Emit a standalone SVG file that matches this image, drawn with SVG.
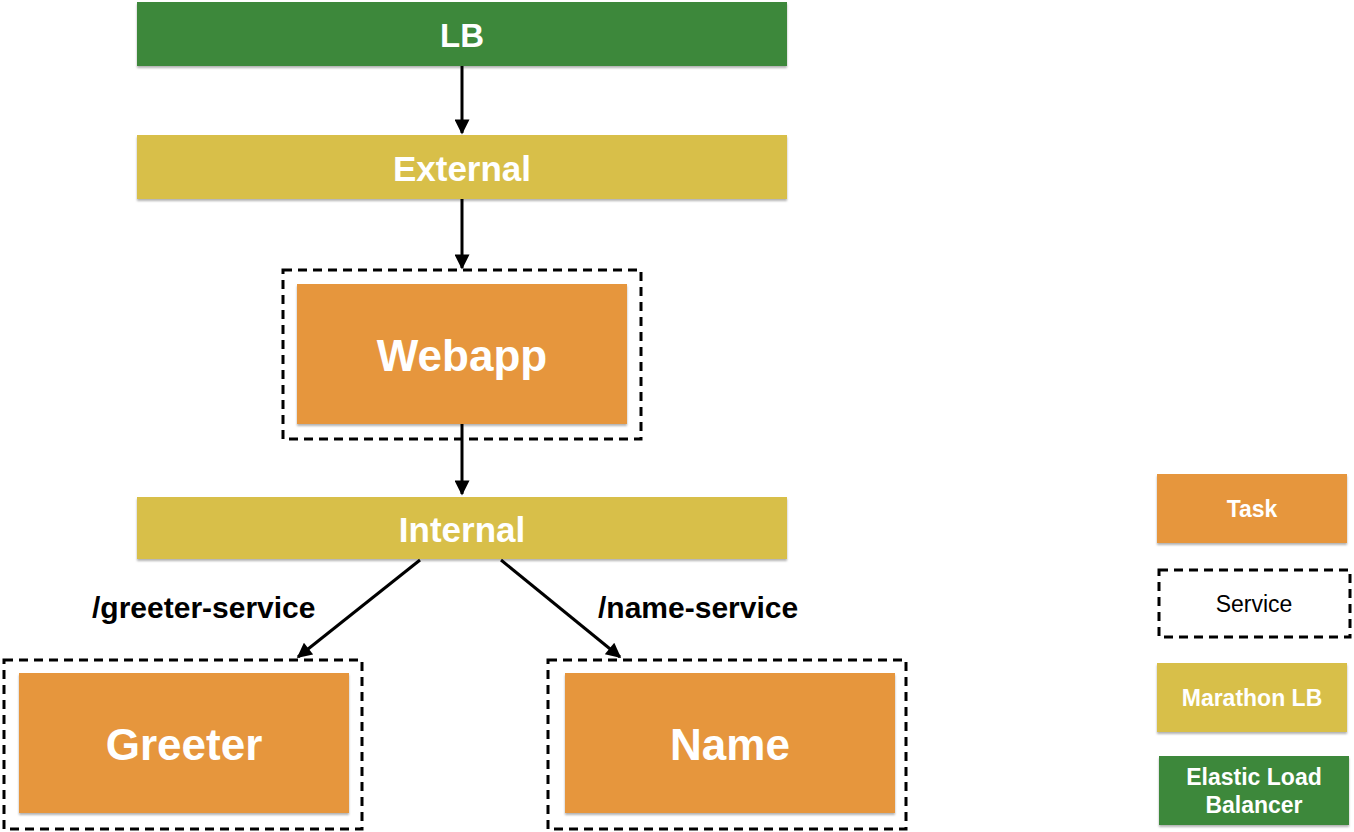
<svg xmlns="http://www.w3.org/2000/svg" width="1354" height="832" viewBox="0 0 1354 832">
<style>
.lbg{fill:#3d883b}
.mlb{fill:#d8bf48}
.task{fill:#e6963c}
.svc{fill:none;stroke:#000;stroke-width:3;stroke-dasharray:9 6}
.t{font-family:"Liberation Sans",Arial,sans-serif;font-weight:bold;fill:#fff;text-anchor:middle;dominant-baseline:central}
.lbl{font-family:"Liberation Sans",Arial,sans-serif;font-weight:bold;fill:#000;font-size:30px}
.reg{font-family:"Liberation Sans",Arial,sans-serif;fill:#000;text-anchor:middle;dominant-baseline:central;font-size:23px}
.conn{stroke:#000;stroke-width:3;fill:none}
</style>
<defs>
<filter id="sh" x="-5%" y="-10%" width="110%" height="130%">
<feDropShadow dx="0" dy="2" stdDeviation="1.2" flood-color="#000" flood-opacity="0.3"/>
</filter>
<marker id="ah" viewBox="0 0 10 10" refX="9" refY="5" markerWidth="5.5" markerHeight="5" orient="auto" markerUnits="strokeWidth">
<path d="M0,0 L10,5 L0,10 z" fill="#000"/>
</marker>
</defs>
<rect width="1354" height="832" fill="#fff"/>
<g id="lb">
<rect class="lbg" x="137" y="2" width="650" height="64" filter="url(#sh)"/>
<text class="t" x="462" y="35" font-size="33">LB</text>
</g>
<g id="external">
<rect class="mlb" x="137" y="135" width="650" height="64" filter="url(#sh)"/>
<text class="t" x="462" y="168" font-size="35">External</text>
</g>
<g id="webapp">
<rect class="svc" x="283" y="270" width="358" height="169"/>
<rect class="task" x="297" y="284" width="330" height="140" filter="url(#sh)"/>
<text class="t" x="462" y="355" font-size="44">Webapp</text>
</g>
<g id="internal">
<rect class="mlb" x="137" y="497" width="650" height="62" filter="url(#sh)"/>
<text class="t" x="462" y="529" font-size="35">Internal</text>
</g>
<g id="greeter">
<rect class="svc" x="4" y="660" width="358" height="169"/>
<rect class="task" x="19" y="673" width="330" height="140" filter="url(#sh)"/>
<text class="t" x="184" y="744" font-size="44">Greeter</text>
</g>
<g id="name">
<rect class="svc" x="548" y="660" width="358" height="169"/>
<rect class="task" x="565" y="673" width="330" height="140" filter="url(#sh)"/>
<text class="t" x="730" y="744" font-size="44">Name</text>
</g>
<g id="connectors">
<line class="conn" x1="462" y1="66" x2="462" y2="133" marker-end="url(#ah)"/>
<line class="conn" x1="462" y1="199" x2="462" y2="268" marker-end="url(#ah)"/>
<line class="conn" x1="462" y1="424" x2="462" y2="494" marker-end="url(#ah)"/>
<line class="conn" x1="420" y1="560" x2="298" y2="657" marker-end="url(#ah)"/>
<line class="conn" x1="501" y1="560" x2="620" y2="657" marker-end="url(#ah)"/>
<text class="lbl" x="92" y="618">/greeter-service</text>
<text class="lbl" x="598" y="618">/name-service</text>
</g>
<g id="legend-task">
<rect class="task" x="1157" y="474" width="190" height="69" filter="url(#sh)"/>
<text class="t" x="1252" y="509" font-size="23">Task</text>
</g>
<g id="legend-service">
<rect class="svc" x="1159" y="570" width="191" height="67"/>
<text class="reg" x="1254" y="604">Service</text>
</g>
<g id="legend-marathon">
<rect class="mlb" x="1157" y="663" width="190" height="69" filter="url(#sh)"/>
<text class="t" x="1252" y="698" font-size="23">Marathon LB</text>
</g>
<g id="legend-elb">
<rect class="lbg" x="1159" y="756" width="190" height="69" filter="url(#sh)"/>
<text class="t" x="1254" y="777" font-size="23">Elastic Load</text>
<text class="t" x="1254" y="805" font-size="23">Balancer</text>
</g>
</svg>
